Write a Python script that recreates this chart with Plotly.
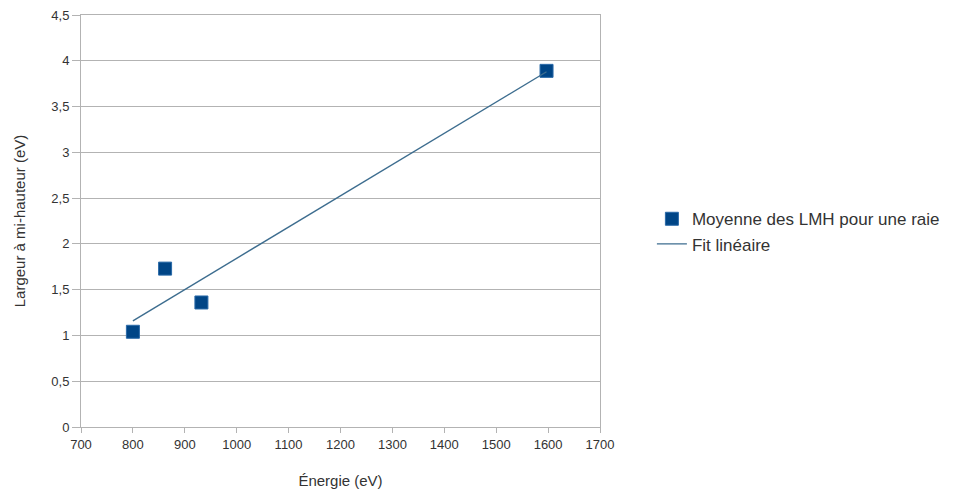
import plotly.graph_objects as go

energie = [800, 862, 932, 1597]
lmh = [1.04, 1.73, 1.36, 3.89]
fit_x = [800, 1597]
fit_y = [1.16, 3.88]
x_ticks = [700, 800, 900, 1000, 1100, 1200, 1300, 1400, 1500, 1600, 1700]
y_ticks = [0, 0.5, 1, 1.5, 2, 2.5, 3, 3.5, 4, 4.5]
y_labels = ["0", "0,5", "1", "1,5", "2", "2,5", "3", "3,5", "4", "4,5"]

FONT = "Liberation Sans, Arial, sans-serif"
TXT = "#333333"

fig = go.Figure()
fig.add_trace(go.Scatter(
    x=energie, y=lmh, mode="markers", name="Moyenne des LMH pour une raie",
    marker=dict(symbol="square", size=13, color="#004586",
                line=dict(color="#2a6aa8", width=1)),
))
fig.add_trace(go.Scatter(
    x=fit_x, y=fit_y, mode="lines", name="Fit linéaire",
    line=dict(color="#3d6d8f", width=1.4),
))

fig.update_xaxes(
    range=[700, 1700], tickvals=x_ticks, ticktext=[str(v) for v in x_ticks],
    showgrid=False, mirror=True, zeroline=False,
    showline=True, linecolor="#b3b3b3", linewidth=1,
    ticks="outside", ticklen=5, tickcolor="#b3b3b3",
    tickfont=dict(family=FONT, size=13, color=TXT),
    ticklabeloverflow="allow",
    title=dict(text="Énergie (eV)", font=dict(family=FONT, size=15, color=TXT), standoff=27),
)
fig.update_yaxes(
    range=[0, 4.5], tickvals=y_ticks, ticktext=y_labels,
    showgrid=True, gridcolor="#b3b3b3", gridwidth=1, mirror=True, zeroline=False,
    showline=True, linecolor="#b3b3b3", linewidth=1,
    ticks="outside", ticklen=8, tickcolor="#b3b3b3",
    tickfont=dict(family=FONT, size=13, color=TXT),
    ticklabeloverflow="allow",
    title=dict(text="Largeur à mi-hauteur (eV)", font=dict(family=FONT, size=15, color=TXT), standoff=22),
)
fig.update_layout(
    width=950, height=481,
    margin=dict(l=73, r=358, t=7, b=62, autoexpand=False),
    paper_bgcolor="white", plot_bgcolor="white",
    font=dict(family=FONT, size=14, color=TXT),
    legend=dict(x=1.10, y=0.548, xanchor="left", yanchor="top",
                font=dict(family=FONT, size=17, color=TXT),
                tracegroupgap=0, itemwidth=30),
    showlegend=True,
)
fig.write_html("out.html")
